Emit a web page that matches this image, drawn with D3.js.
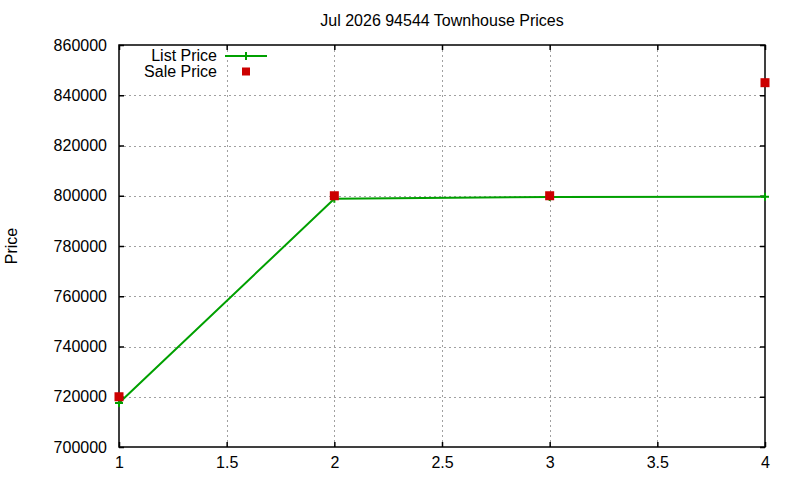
<!DOCTYPE html>
<html>
<head>
<meta charset="utf-8">
<script src="https://cdn.jsdelivr.net/npm/d3@7"></script>
<style>
  body { margin: 0; background: #fff; }
  text { font-family: "Liberation Sans", Arial, sans-serif; }
</style>
</head>
<body>
<div id="chart"></div>
<script>
const w = 800
const h = 480
const margin = { top: 45, right: 35, bottom: 33, left: 119 }

// Data
const listX = [1, 2, 3, 4]
const listPrice = [717500, 798800, 799500, 799600]
const saleX = [1, 2, 3, 4]
const salePrice = [720000, 800000, 800000, 845000]

const xTicks = [1, 1.5, 2, 2.5, 3, 3.5, 4]
const yTicks = [700000, 720000, 740000, 760000, 780000, 800000, 820000, 840000, 860000]

const titleText = "Jul 2026 94544 Townhouse Prices"
const yLabel = "Price"
const seriesNames = ["List Price", "Sale Price"]

const green = "#00a000"
const red = "#cc0000"
const fontSize = "16px"

const svg = d3.select("#chart")
              .append("svg")
                .attr("width", w)
                .attr("height", h)

const x = d3.scaleLinear()
            .domain([1, 4])
            .range([margin.left, w - margin.right])

const y = d3.scaleLinear()
            .domain([700000, 860000])
            .range([h - margin.bottom, margin.top])

// --- Grid ---
const grid = svg.append("g")
  .attr("stroke", "#a0a0a0")
  .attr("stroke-width", 1)
  .attr("stroke-dasharray", "2,3")

grid.selectAll(".gx")
  .data(xTicks.slice(1, -1))
  .join("line")
    .attr("x1", d => Math.round(x(d)) + 0.5)
    .attr("x2", d => Math.round(x(d)) + 0.5)
    .attr("y1", y.range()[0])
    .attr("y2", y.range()[1])

grid.selectAll(".gy")
  .data(yTicks.slice(1, -1))
  .join("line")
    .attr("x1", x.range()[0])
    .attr("x2", x.range()[1])
    .attr("y1", d => Math.round(y(d)) + 0.5)
    .attr("y2", d => Math.round(y(d)) + 0.5)

// --- Axes (gnuplot style: inward ticks, mirrored) ---
const tickLen = 5
svg.append("g")
  .attr("transform", `translate(0,${y.range()[0]})`)
  .call(d3.axisBottom(x).tickValues(xTicks).tickSizeInner(-tickLen).tickSizeOuter(0).tickPadding(10).tickFormat(d3.format("")))
svg.append("g")
  .attr("transform", `translate(0,${y.range()[1]})`)
  .call(d3.axisTop(x).tickValues(xTicks).tickSizeInner(-tickLen).tickSizeOuter(0).tickFormat(""))
svg.append("g")
  .attr("transform", `translate(${x.range()[0]},0)`)
  .call(d3.axisLeft(y).tickValues(yTicks).tickSizeInner(-tickLen).tickSizeOuter(0).tickPadding(12).tickFormat(d3.format("d")))
svg.append("g")
  .attr("transform", `translate(${x.range()[1]},0)`)
  .call(d3.axisRight(y).tickValues(yTicks).tickSizeInner(-tickLen).tickSizeOuter(0).tickFormat(""))

svg.selectAll(".domain").remove()
svg.selectAll(".tick line").attr("stroke", "#000").attr("stroke-width", 1.5)
svg.selectAll(".tick text").attr("fill", "#000").style("font-size", fontSize)

// border
svg.append("rect")
  .attr("x", x.range()[0])
  .attr("y", y.range()[1])
  .attr("width", x.range()[1] - x.range()[0])
  .attr("height", y.range()[0] - y.range()[1])
  .attr("fill", "none")
  .attr("stroke", "#000")
  .attr("stroke-width", 1.5)

// --- Series ---
const listData = listX.map((d, i) => [d, listPrice[i]])
const saleData = saleX.map((d, i) => [d, salePrice[i]])

const line = d3.line().x(d => x(d[0])).y(d => y(d[1]))

svg.append("path")
  .datum(listData)
  .attr("fill", "none")
  .attr("stroke", green)
  .attr("stroke-width", 2)
  .attr("d", line)

svg.selectAll(".lp")
  .data(listData)
  .join("path")
    .attr("transform", d => `translate(${x(d[0])},${y(d[1])})`)
    .attr("d", "M-4,0H4M0,-4V4")
    .attr("stroke", green)
    .attr("stroke-width", 2)

svg.selectAll(".sp")
  .data(saleData)
  .join("rect")
    .attr("x", d => x(d[0]) - 4.5)
    .attr("y", d => y(d[1]) - 4.5)
    .attr("width", 9)
    .attr("height", 9)
    .attr("fill", red)

// --- Legend ---
const legend = svg.append("g")
legend.append("text")
  .attr("x", 217).attr("y", 61)
  .attr("text-anchor", "end")
  .style("font-size", fontSize)
  .text(seriesNames[0])
legend.append("line")
  .attr("x1", 225).attr("x2", 267)
  .attr("y1", 56).attr("y2", 56)
  .attr("stroke", green).attr("stroke-width", 2)
legend.append("path")
  .attr("transform", "translate(246,56)")
  .attr("d", "M-4,0H4M0,-4V4")
  .attr("stroke", green).attr("stroke-width", 2)
legend.append("text")
  .attr("x", 217).attr("y", 77)
  .attr("text-anchor", "end")
  .style("font-size", fontSize)
  .text(seriesNames[1])
legend.append("rect")
  .attr("x", 242).attr("y", 67.5)
  .attr("width", 8).attr("height", 8)
  .attr("fill", red)

// --- Title and label ---
svg.append("text")
  .attr("x", (x.range()[0] + x.range()[1]) / 2)
  .attr("y", 26)
  .attr("text-anchor", "middle")
  .style("font-size", fontSize)
  .text(titleText)

svg.append("text")
  .attr("transform", `translate(17,${(y.range()[0] + y.range()[1]) / 2}) rotate(-90)`)
  .attr("text-anchor", "middle")
  .style("font-size", fontSize)
  .text(yLabel)
</script>
</body>
</html>
